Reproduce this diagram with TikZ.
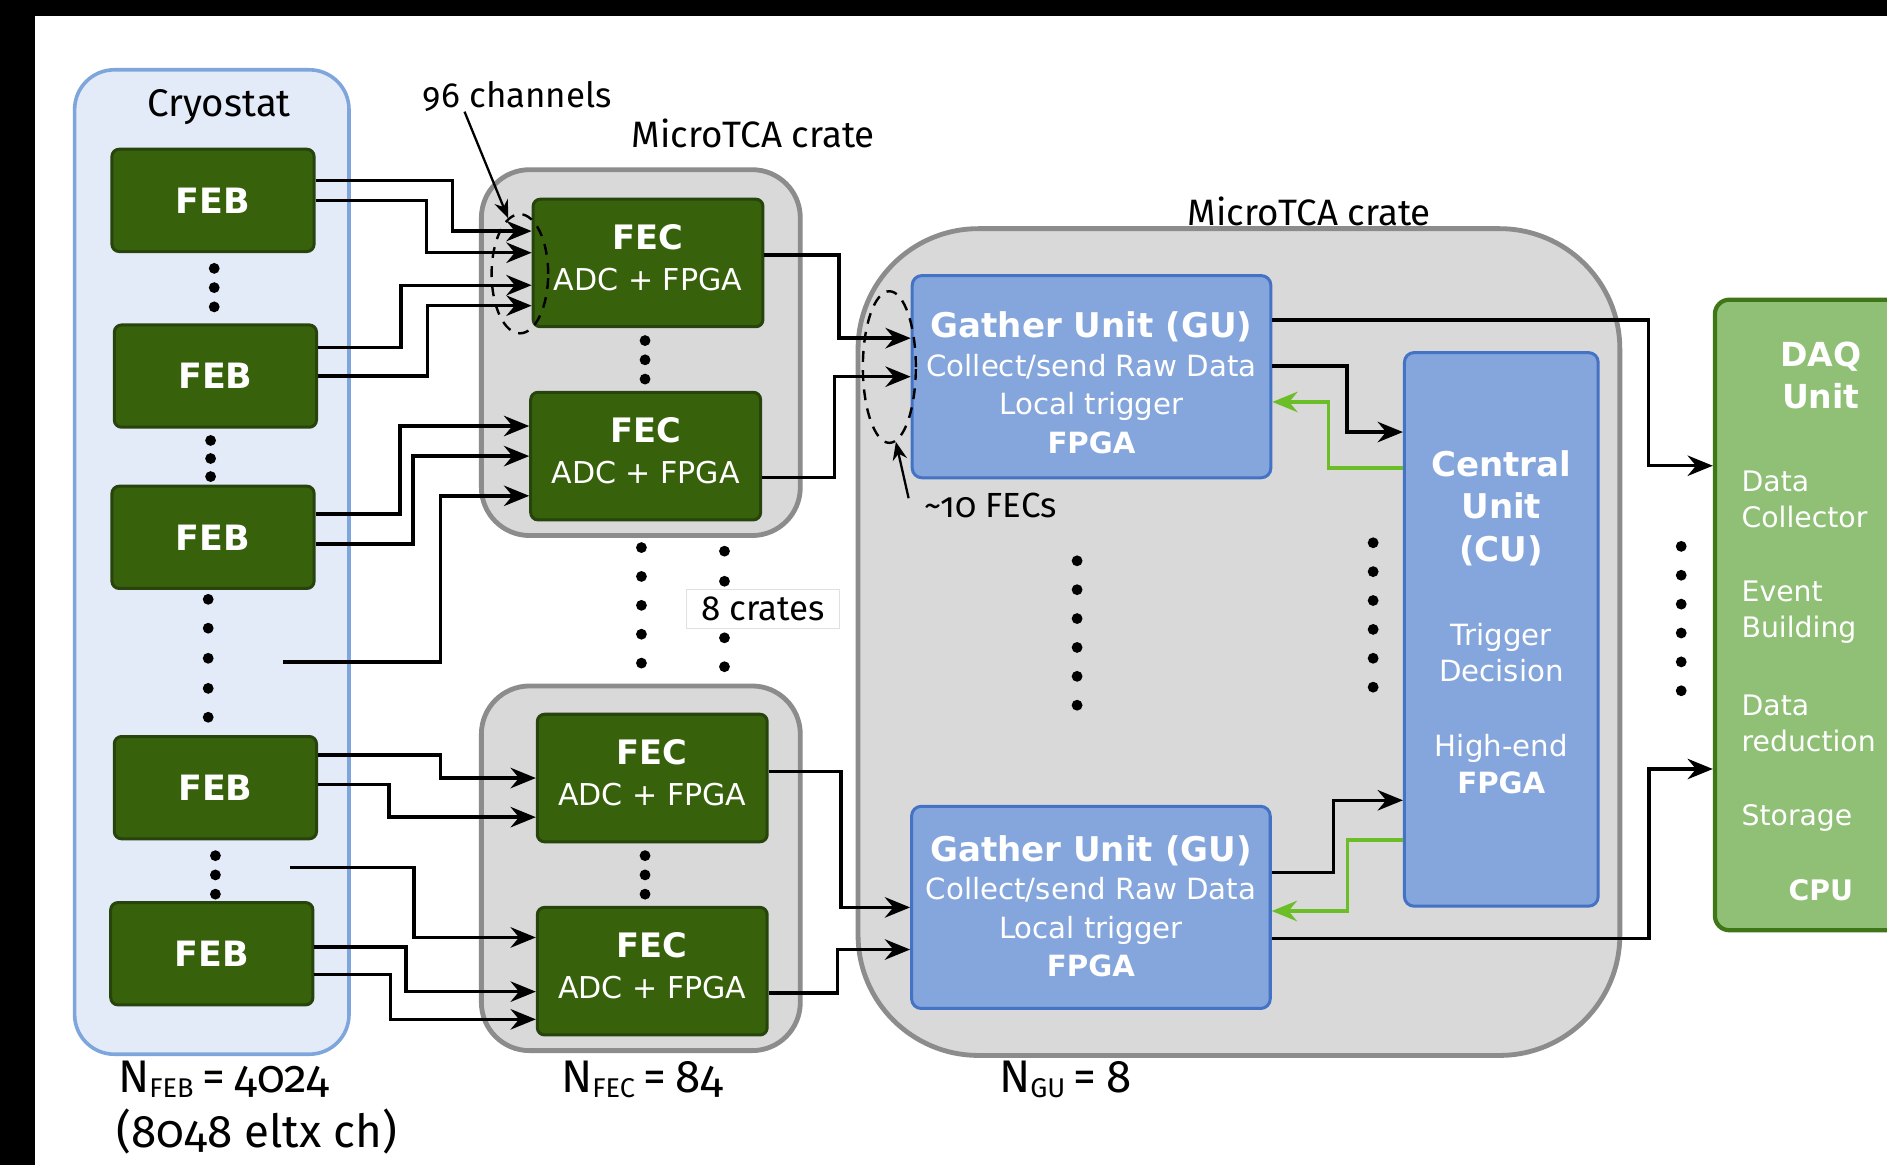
\documentclass[tikz,border=0pt]{standalone}
\usepackage{fontspec}
\setmainfont{Fira Sans}[Numbers=OldStyle]
\newfontfamily\boxfont{DejaVu Sans}
\usetikzlibrary{arrows.meta,shapes.geometric}

\definecolor{febgreen}{RGB}{56,97,11}
\definecolor{febedge}{RGB}{38,68,12}
\definecolor{cryofill}{RGB}{228,235,248}
\definecolor{cryoedge}{RGB}{127,166,220}
\definecolor{cratefill}{RGB}{217,217,217}
\definecolor{crateedge}{RGB}{140,140,140}
\definecolor{gufill}{RGB}{133,166,220}
\definecolor{guedge}{RGB}{68,114,196}
\definecolor{daqfill}{RGB}{143,192,118}
\definecolor{daqedge}{RGB}{62,118,24}
\definecolor{trigreen}{RGB}{108,190,40}

\newcommand{\gutitle}{\bfseries\fontsize{28.3}{32}\selectfont}
\newcommand{\fectitle}{\bfseries\fontsize{28}{34}\selectfont}
\newcommand{\nsub}[1]{\raisebox{-4pt}{\fontsize{22.5}{22}\selectfont #1}}

\tikzset{
  febbox/.style={draw=febedge, fill=febgreen, line width=2.5pt, rounded corners=6pt,
    minimum width=168pt, minimum height=85pt, text=white, inner sep=0pt,
    font=\boxfont\bfseries\fontsize{29}{35}\selectfont},
  fecbox/.style={febbox, minimum width=191pt, minimum height=106pt},
  gubox/.style={draw=guedge, fill=gufill, line width=2.5pt, rounded corners=8pt, inner sep=0pt},
  boxtxt/.style={text=white, align=center, inner sep=0pt, font=\boxfont\fontsize{24.3}{32}\selectfont},
  fectxt/.style={boxtxt, font=\boxfont\fontsize{25}{34}\selectfont},
  crate/.style={draw=crateedge, fill=cratefill, line width=4pt, rounded corners=40pt},
  daqtxt/.style={text=white, inner sep=0pt, font=\boxfont\fontsize{23.5}{30}\selectfont},
  wire/.style={line width=2.8pt, -{Stealth[length=21pt,width=17pt,inset=7pt]}},
  trigwire/.style={wire, draw=trigreen},
  pointer/.style={line width=1.9pt, -{Stealth[length=15pt,width=12pt,inset=5pt]}},
  ring/.style={ellipse, draw, line width=2pt, dash pattern=on 9pt off 7pt, inner sep=0pt},
  tag/.style={inner sep=0pt, font=\fontsize{29}{33}\selectfont},
  bigtag/.style={inner sep=0pt, anchor=west, font=\fontsize{38}{43}\selectfont}
}

\begin{document}
\begin{tikzpicture}[x=1pt, y=-1pt]
  \clip (0,0) rectangle (1568,968);
  \fill[black] (0,0) rectangle (1568,968);
  \fill[white] (29,13) rectangle (1568,968);

  % containers
  \node[draw=cryoedge, fill=cryofill, line width=3pt, rounded corners=33pt,
    minimum width=228pt, minimum height=818pt] (cryo) at (176,467) {};
  \node[crate, minimum width=265pt, minimum height=304pt] (crateA) at (532.5,293) {};
  \node[crate, minimum width=265pt, minimum height=303pt] (crateB) at (532.5,721.5) {};
  \node[crate, rounded corners=100pt, minimum width=633pt, minimum height=687pt] (crateGU) at (1029.5,533.5) {};
  \node[draw=daqedge, fill=daqfill, line width=3.5pt, rounded corners=12pt,
    minimum width=200pt, minimum height=524pt] (daq) at (1525,511) {};

  % front-end boards
  \node[febbox] (feb1) at (177,166.5) {FEB};
  \node[febbox] (feb2) at (179,312.5) {FEB};
  \node[febbox] (feb3) at (177,446.5) {FEB};
  \node[febbox] (feb4) at (179,654.5) {FEB};
  \node[febbox] (feb5) at (176,792.5) {FEB};

  % front-end cards
  \node[fecbox] (fec1) at (538.5,218.5) {};
  \node[fecbox] (fec2) at (536.5,379) {};
  \node[fecbox] (fec3) at (542,646.5) {};
  \node[fecbox] (fec4) at (542,807) {};
  \node[fectxt] (fec1txt) at ([yshift=4.5pt]fec1.center) {{\fectitle FEC}\\ADC + FPGA};
  \node[fectxt] (fec2txt) at ([yshift=4.5pt]fec2.center) {{\fectitle FEC}\\ADC + FPGA};
  \node[fectxt] (fec3txt) at ([yshift=4.5pt]fec3.center) {{\fectitle FEC}\\ADC + FPGA};
  \node[fectxt] (fec4txt) at ([yshift=4.5pt]fec4.center) {{\fectitle FEC}\\ADC + FPGA};

  % gather units and central unit
  \node[gubox, minimum width=298pt, minimum height=168pt] (gu1) at (907,313) {};
  \node[gubox, minimum width=298pt, minimum height=168pt] (gu2) at (906.5,754) {};
  \node[gubox, minimum width=161pt, minimum height=460pt] (cu) at (1247.5,523) {};
  \node[boxtxt] (gu1txt) at ([yshift=-5pt]gu1.center)
    {{\gutitle Gather Unit (GU)}\\Collect/send Raw Data\\Local trigger\\{\bfseries FPGA}};
  \node[boxtxt] (gu2txt) at ([yshift=1pt]gu2.center)
    {{\gutitle Gather Unit (GU)}\\Collect/send Raw Data\\Local trigger\\{\bfseries FPGA}};
  \node[boxtxt] (cutxt) at ([yshift=6pt]cu.center)
    {{\gutitle Central}\\[3pt]{\gutitle Unit}\\[3.5pt]{\gutitle (CU)}\\[38pt]Trigger\\[-2pt]Decision\\[30pt]High-end\\[-1pt]{\bfseries FPGA}};

  % DAQ unit texts
  \node[daqtxt, align=center, font=\boxfont\bfseries\fontsize{27.5}{35}\selectfont] (daqname) at (1513,312) {DAQ\\Unit};
  \node[daqtxt, anchor=west, align=left] (daqcol) at (1447,415) {Data\\Collector};
  \node[daqtxt, anchor=west, align=left] (daqevt) at (1447,509) {Event\\Building};
  \node[daqtxt, anchor=west, align=left] (daqred) at (1447,601) {Data\\reduction};
  \node[daqtxt, anchor=west] (daqsto) at (1447,680) {Storage};
  \node[daqtxt, font=\boxfont\bfseries\fontsize{23.5}{30}\selectfont] (daqcpu) at (1513,740) {CPU};

  % dots
  \foreach \y in {223,239,255} \fill (178,\y) circle (4.5pt);
  \foreach \y in {366,381,396} \fill (175,\y) circle (4.5pt);
  \foreach \y in {498,522,547,572,596} \fill (173,\y) circle (4.5pt);
  \foreach \y in {711,727,743} \fill (179,\y) circle (4.5pt);
  \foreach \y in {283,299,315} \fill (536,\y) circle (4.5pt);
  \foreach \y in {711,727,743} \fill (536,\y) circle (4.5pt);
  \foreach \y in {455,479,503,527,551} \fill (533,\y) circle (4.5pt);
  \foreach \y in {458,483,530,554} \fill (602,\y) circle (4.5pt);
  \foreach \y in {466,490,514,538,562,586} \fill (895,\y) circle (4.5pt);
  \foreach \y in {451,475,499,523,547,571} \fill (1141,\y) circle (4.5pt);
  \foreach \y in {454,478,502,526,550,574} \fill (1397,\y) circle (4.5pt);

  % FEB -> FEC
  \coordinate (febmid) at (235,550);
  \coordinate (feblow) at (241,721);
  \draw[wire] ([yshift=16.5pt]feb1.east) -- ++(114,0) |- ([yshift=26.5pt]fec1.west);
  \draw[wire] (feb1.east) -- ++(92,0) |- ([yshift=8.5pt]fec1.west);
  \draw[wire] ([yshift=23.5pt]feb2.east) -- ++(69,0) |- ([yshift=-18.5pt]fec1.west);
  \draw[wire] (feb2.east) -- ++(91,0) |- ([yshift=-35.5pt]fec1.west);
  \draw[wire] ([yshift=19.5pt]feb3.east) -- ++(70,0) |- ([yshift=25pt]fec2.west);
  \draw[wire] ([yshift=-5.5pt]feb3.east) -- ++(81,0) |- (fec2.west);
  \draw[wire] (febmid) -- ++(131,0) |- ([yshift=-33pt]fec2.west);
  \draw[wire] ([yshift=27pt]feb4.east) -- ++(102,0) |- (fec3.west);
  \draw[wire] ([yshift=2.5pt]feb4.east) -- ++(59,0) |- ([yshift=-32.5pt]fec3.west);
  \draw[wire] (feblow) -- ++(103,0) |- ([yshift=28pt]fec4.west);
  \draw[wire] ([yshift=5.5pt]feb5.east) -- ++(76,0) |- ([yshift=-17pt]fec4.west);
  \draw[wire] ([yshift=-17.5pt]feb5.east) -- ++(63,0) |- ([yshift=-40pt]fec4.west);

  % FEC -> GU
  \draw[wire] ([yshift=6.5pt]fec1.east) -- ++(62,0) |- ([yshift=32pt]gu1.west);
  \draw[wire] ([yshift=-18pt]fec2.east) -- ++(60,0) |- (gu1.west);
  \draw[wire] ([yshift=5.5pt]fec3.east) -- ++(60,0) |- (gu2.west);
  \draw[wire] ([yshift=-18pt]fec4.east) -- ++(57,0) |- ([yshift=-35pt]gu2.west);

  % GU <-> CU, GU -> DAQ
  \draw[wire] ([yshift=9pt]gu1.east) -- ++(62,0) |- ([yshift=164pt]cu.west);
  \draw[trigwire] ([yshift=134pt]cu.west) -- ++(-62,0) |- ([yshift=-21pt]gu1.east);
  \draw[wire] ([yshift=29pt]gu2.east) -- ++(51.5,0) |- ([yshift=-142pt]cu.west);
  \draw[trigwire] ([yshift=-175pt]cu.west) -- ++(-46,0) |- ([yshift=-3pt]gu2.east);
  \draw[wire] ([yshift=47pt]gu1.east) -- ++(312.5,0) |- ([yshift=124pt]daq.west);
  \draw[wire] ([yshift=-26pt]gu2.east) -- ++(313.5,0) |- ([yshift=-128pt]daq.west);

  % channel groups
  \node[ring, minimum width=47pt, minimum height=99pt] (ringA) at (432,227.5) {};
  \node[ring, minimum width=44pt, minimum height=126pt] (ringB) at (739,305) {};

  % labels
  \node[tag, font=\fontsize{32}{36}\selectfont] (cryolbl) at (182,89) {Cryostat};
  \node[tag] (ch96) at (430,80) {96 channels};
  \node[tag, font=\fontsize{30.5}{35}\selectfont] (crateAlbl) at (626,111) {MicroTCA crate};
  \node[tag, font=\fontsize{30.5}{35}\selectfont] (crateGUlbl) at (1088,176) {MicroTCA crate};
  \node[tag, anchor=west] (fec10) at (768,420) {\textasciitilde 10 FECs};
  \node[tag, draw=black!12, line width=0.8pt, fill=white, minimum width=127pt, minimum height=33pt] (crates8) at (634,506) {8 crates};
  \draw[pointer] ([xshift=-44pt]ch96.south) -- (ringA.102);
  \draw[pointer] ([shift={(-13pt,6pt)}]fec10.west) -- (ringB.-85);

  \node[bigtag] (nfeb) at (98,897) {N\nsub{FEB}\hspace{7pt}=\hspace{8pt}4024};
  \node[bigtag] (nch) at (97,940) {(8048 eltx ch)};
  \node[bigtag] (nfec) at (466,897) {N\nsub{FEC}\hspace{7pt}=\hspace{8pt}84};
  \node[bigtag] (ngu) at (830,897) {N\nsub{GU}\hspace{7pt}=\hspace{8pt}8};
\end{tikzpicture}
\end{document}
